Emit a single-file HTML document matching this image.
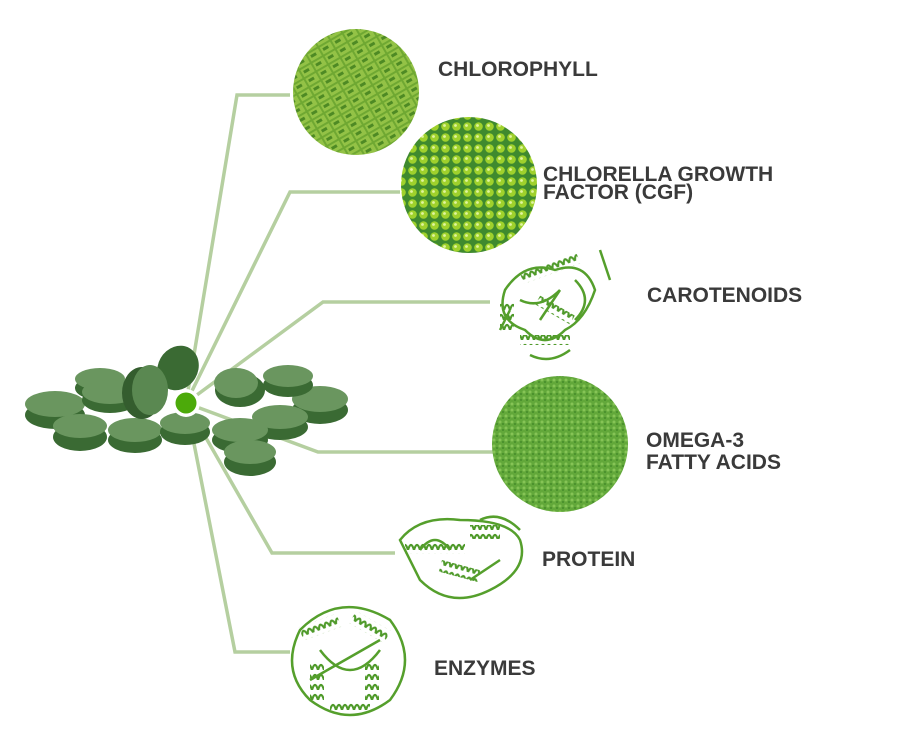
<!DOCTYPE html>
<html><head><meta charset="utf-8"><style>
html,body{margin:0;padding:0;background:#fff;width:900px;height:752px;overflow:hidden}
text{font-family:"Liberation Sans",sans-serif;font-weight:bold;fill:#3a3a3a;font-size:21px}
</style></head><body>
<svg width="900" height="752" viewBox="0 0 900 752" xmlns="http://www.w3.org/2000/svg">
<defs>
<pattern id="cells" width="14" height="10" patternUnits="userSpaceOnUse" patternTransform="rotate(-30)">
<rect width="14" height="10" fill="#6fa832"/><rect x="1" y="1" width="12" height="8" fill="#93c246"/><rect x="3" y="3" width="6" height="3" fill="#4e8a24"/></pattern>
<pattern id="dots" width="11" height="11" patternUnits="userSpaceOnUse">
<rect width="11" height="11" fill="#3f8a2e"/><circle cx="5.5" cy="5.5" r="4.3" fill="#9fd12c"/><circle cx="4.5" cy="4.5" r="1.4" fill="#e0f5a0"/></pattern>
<pattern id="powder" width="6" height="6" patternUnits="userSpaceOnUse">
<rect width="6" height="6" fill="#62a83a"/><circle cx="2" cy="2" r="1.5" fill="#86c456"/><circle cx="5" cy="4" r="1" fill="#458a2a"/></pattern>
<pattern id="coil" width="6" height="10" patternUnits="userSpaceOnUse">
<path d="M0 10 Q3 0 6 10" fill="none" stroke="#4f9a2a" stroke-width="2.2"/></pattern>
</defs>
<g stroke="#b5cfa0" stroke-width="3.5" fill="none">
<polyline points="186,403 237,95 290,95"/>
<polyline points="186,403 290,192 400,192"/>
<polyline points="186,403 323,302 490,302"/>
<polyline points="186,403 318,452 495,452"/>
<polyline points="186,403 272,553 395,553"/>
<polyline points="186,403 235,652 290,652"/>
</g>
<g>
<ellipse cx="55" cy="415" rx="30" ry="14" fill="#3a6a33"/><ellipse cx="55" cy="404" rx="30" ry="13" fill="#6a965f"/>
<ellipse cx="320" cy="410" rx="28" ry="14" fill="#3a6a33"/><ellipse cx="320" cy="399" rx="28" ry="13" fill="#6a965f"/>
<ellipse cx="288" cy="385" rx="25" ry="12" fill="#3a6a33"/><ellipse cx="288" cy="376" rx="25" ry="11" fill="#6a965f"/>
<ellipse cx="100" cy="388" rx="25" ry="12" fill="#3a6a33"/><ellipse cx="100" cy="379" rx="25" ry="11" fill="#6a965f"/>
<ellipse cx="280" cy="427" rx="28" ry="13" fill="#3a6a33"/><ellipse cx="280" cy="417" rx="28" ry="12" fill="#6a965f"/>
<ellipse cx="80" cy="437" rx="27" ry="14" fill="#3a6a33"/><ellipse cx="80" cy="426" rx="27" ry="12" fill="#6a965f"/>
<ellipse cx="135" cy="440" rx="27" ry="13" fill="#3a6a33"/><ellipse cx="135" cy="430" rx="27" ry="12" fill="#6a965f"/>
<ellipse cx="185" cy="432" rx="25" ry="13" fill="#3a6a33"/><ellipse cx="185" cy="423" rx="25" ry="11" fill="#6a965f"/>
<ellipse cx="240" cy="440" rx="28" ry="13" fill="#3a6a33"/><ellipse cx="240" cy="430" rx="28" ry="12" fill="#6a965f"/>
<ellipse cx="250" cy="462" rx="26" ry="14" fill="#3a6a33"/><ellipse cx="250" cy="452" rx="26" ry="12" fill="#6a965f"/>
<ellipse cx="110" cy="400" rx="28" ry="13" fill="#3a6a33"/><ellipse cx="110" cy="392" rx="28" ry="12" fill="#6a965f"/>
<ellipse cx="240" cy="390" rx="25" ry="17" fill="#3a6a33"/><ellipse cx="236" cy="383" rx="22" ry="15" fill="#6a965f"/>
<ellipse cx="178" cy="368" rx="20" ry="23" fill="#3a6a33" transform="rotate(30 178 368)"/>
<ellipse cx="142" cy="393" rx="20" ry="26" fill="#345d2e"/><ellipse cx="150" cy="390" rx="18" ry="25" fill="#5a8851"/>
</g>
<circle cx="186" cy="403" r="14" fill="#fff"/><circle cx="186" cy="403" r="10.5" fill="#4caa0a"/>
<circle cx="356" cy="92" r="63" fill="url(#cells)"/>
<circle cx="469" cy="185" r="68" fill="url(#dots)"/>
<circle cx="560" cy="444" r="68" fill="url(#powder)"/>
<!-- proteins -->
<g fill="none" stroke="#559f2c" stroke-width="2.5">
<rect x="520" y="262" width="60" height="12" fill="url(#coil)" stroke="none" transform="rotate(-20 550 268)"/>
<rect x="500" y="300" width="14" height="30" fill="url(#coil)" stroke="none"/>
<rect x="535" y="305" width="40" height="10" fill="url(#coil)" stroke="none" transform="rotate(30 555 310)"/>
<rect x="520" y="335" width="50" height="10" fill="url(#coil)" stroke="none"/>
<path d="M505 290 q20-30 50-20 q30-10 40 20 q-10 30-30 40 q-20 20-40 0 q-30-10-20-40z M520 300 q20 10 40-10 M540 320 l20-30 M600 250 l10 30 M500 330 l10-20 M530 355 q20 10 40-5 M575 280 q20 20 0 40"/>
<rect x="405" y="540" width="60" height="14" fill="url(#coil)" stroke="none"/>
<rect x="470" y="525" width="30" height="14" fill="url(#coil)" stroke="none"/>
<rect x="440" y="565" width="40" height="12" fill="url(#coil)" stroke="none" transform="rotate(15 460 570)"/>
<path d="M400 540 q20-25 60-20 q50 0 60 20 q10 30-30 50 q-40 20-70-10z M420 550 q15-20 30 0 M470 580 l30-20 M480 520 q20-10 40 10"/>
<rect x="300" y="620" width="40" height="14" fill="url(#coil)" stroke="none" transform="rotate(-20 320 627)"/>
<rect x="350" y="620" width="40" height="14" fill="url(#coil)" stroke="none" transform="rotate(30 370 627)"/>
<rect x="310" y="660" width="14" height="40" fill="url(#coil)" stroke="none"/>
<rect x="365" y="660" width="14" height="40" fill="url(#coil)" stroke="none"/>
<rect x="330" y="700" width="40" height="14" fill="url(#coil)" stroke="none"/>
<path d="M300 630 q40-40 90-10 q30 40 0 80 q-40 30-80 0 q-30-30-10-70z M320 650 q30 40 60 0 M310 680 l70-40"/>
</g>
<text x="438" y="76">CHLOROPHYLL</text>
<text x="543" y="181">CHLORELLA GROWTH</text>
<text x="543" y="199">FACTOR (CGF)</text>
<text x="647" y="302">CAROTENOIDS</text>
<text x="646" y="447">OMEGA-3</text>
<text x="646" y="469">FATTY ACIDS</text>
<text x="542" y="566">PROTEIN</text>
<text x="434" y="675">ENZYMES</text>
</svg>
</body></html>
